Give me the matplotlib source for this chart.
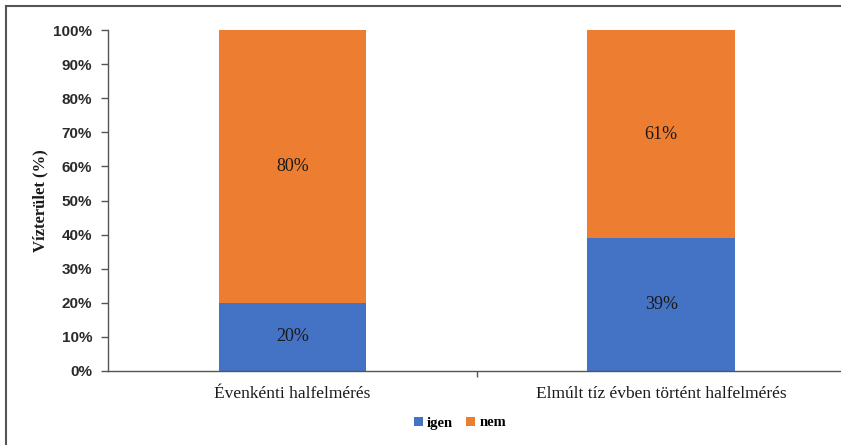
import matplotlib
matplotlib.use("Agg")
import matplotlib.pyplot as plt
from matplotlib.lines import Line2D
from matplotlib.ticker import PercentFormatter, MultipleLocator

categories = ["Évenkénti halfelmérés", "Elmúlt tíz évben történt halfelmérés"]
igen = [20, 39]
nem = [80, 61]
series_names = ["igen", "nem"]
colors = ["#4472C4", "#ED7D31"]

serif = "Liberation Serif"
sans = "Liberation Sans"
text_color = "#1a1a1a"

fig = plt.figure(figsize=(8.41, 4.45), dpi=100)
ax = fig.add_axes([108 / 841, 74 / 445, 737.5 / 841, 341 / 445])

x = list(range(len(categories)))
width = 0.4
b1 = ax.bar(x, igen, width, color=colors[0], label=series_names[0], zorder=2)
b2 = ax.bar(x, nem, width, bottom=igen, color=colors[1], label=series_names[1], zorder=2)

for xi, v in zip(x, igen):
    ax.text(xi, v / 2, f"{v}%", ha="center", va="center", fontsize=13,
            family=serif, color=text_color)
for xi, b, v in zip(x, igen, nem):
    ax.text(xi, b + v / 2, f"{v}%", ha="center", va="center", fontsize=13,
            family=serif, color=text_color)

ax.set_xlim(-0.5, len(categories) - 0.5)
ax.set_ylim(0, 100)
ax.yaxis.set_major_locator(MultipleLocator(10))
ax.yaxis.set_major_formatter(PercentFormatter(decimals=0))

ax.set_xticks(x)
ax.set_xticklabels(categories, family=serif, fontsize=12.5, color=text_color)
ax.tick_params(axis="x", length=0, pad=11)
ax.set_xticks([0.5], minor=True)
ax.tick_params(axis="x", which="minor", length=4, width=1, color="#555555")

for lbl in ax.get_yticklabels():
    lbl.set_family(sans)
    lbl.set_fontweight("bold")
    lbl.set_fontsize(11)
    lbl.set_color("#2a2a2a")
ax.tick_params(axis="y", length=5, width=1, color="#555555", pad=6.5)

for s in ["top", "right"]:
    ax.spines[s].set_visible(False)
for s in ["left", "bottom"]:
    ax.spines[s].set_color("#555555")
    ax.spines[s].set_linewidth(1)

ax.set_ylabel("Vízterület (%)", family=serif, fontsize=12, fontweight="bold",
              color=text_color)
ax.yaxis.set_label_coords(-(108 - 48) / 737.5, 0.5)

fig.legend(handles=[b1, b2], labels=series_names, loc="center",
           bbox_to_anchor=(460 / 841, 1 - 423 / 445), ncol=2, frameon=False,
           handlelength=0.6, handleheight=0.6, handletextpad=0.3,
           columnspacing=0.9, prop={"family": serif, "size": 10.5, "weight": "bold"})

# Outer frame: top and left edges
fx, fy = 5.5 / 841, 1 - 5.5 / 445
for xs, ys in [([fx, 1.0], [fy, fy]), ([fx, fx], [fy, 0.0])]:
    fig.add_artist(Line2D(xs, ys, transform=fig.transFigure,
                          color="#555555", linewidth=1.5))

fig.savefig("out.png", dpi=100)
